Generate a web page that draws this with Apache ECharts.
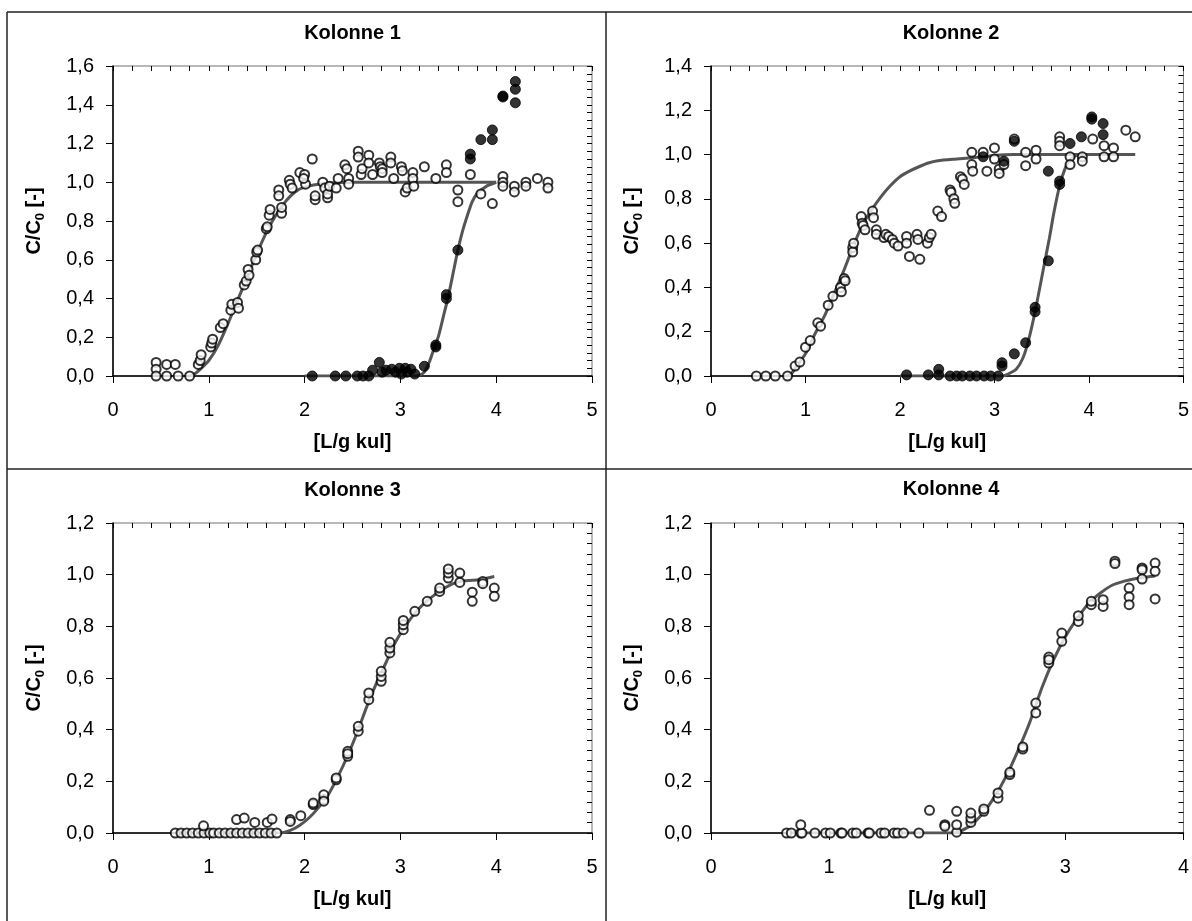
<!DOCTYPE html>
<html>
<head>
<meta charset="utf-8">
<script src="https://cdn.jsdelivr.net/npm/echarts@6/dist/echarts.min.js"></script>
<style>
html,body{margin:0;padding:0;background:#fff;}
#chart{width:1192px;height:921px;}
</style>
</head>
<body>
<div id="chart"></div>
<script>
// ---------- DATA ----------
const panelTitles = ['Kolonne 1', 'Kolonne 2', 'Kolonne 3', 'Kolonne 4'];
const xAxisName = '[L/g kul]';
const xMaxes = [5, 5, 5, 4];
const yMaxes = [1.6, 1.4, 1.2, 1.2];

// Kolonne 1
const k1Open = [[0.45,0.07],[0.45,0.035],[0.45,0.0],[0.56,0.06],[0.56,0.0],[0.65,0.06],[0.68,0.0],[0.80,0.0],
[0.89,0.06],[0.91,0.08],[0.92,0.11],[1.02,0.15],[1.03,0.17],[1.04,0.19],[1.12,0.25],[1.15,0.27],
[1.23,0.34],[1.24,0.37],[1.30,0.38],[1.31,0.35],[1.37,0.47],[1.39,0.49],[1.41,0.55],[1.42,0.52],
[1.49,0.60],[1.50,0.64],[1.51,0.65],[1.60,0.76],[1.61,0.77],[1.63,0.83],[1.64,0.86],
[1.73,0.96],[1.73,0.93],[1.76,0.84],[1.76,0.87],[1.84,1.01],[1.85,0.99],[1.87,0.97],
[1.95,1.05],[2.0,1.04],[2.01,0.99],[1.99,1.02],[2.08,1.12],[2.11,0.91],[2.11,0.93],
[2.19,1.0],[2.21,0.97],[2.24,0.92],[2.24,0.94],[2.26,0.98],[2.33,0.97],[2.35,1.02],[2.42,1.09],[2.44,1.07],[2.46,1.02],[2.46,0.99],
[2.56,1.16],[2.56,1.13],[2.59,1.04],[2.60,1.07],[2.67,1.14],[2.67,1.10],[2.71,1.04],
[2.78,1.10],[2.79,1.08],[2.81,1.07],[2.81,1.05],[2.90,1.13],[2.90,1.10],[2.93,1.02],
[3.01,1.08],[3.02,1.06],[3.05,0.95],[3.07,0.97],[3.13,1.05],[3.13,1.02],[3.14,0.98],
[3.25,1.08],[3.37,1.02],[3.48,1.09],[3.48,1.05],[3.60,0.96],[3.60,0.90],[3.73,1.04],[3.84,0.94],[3.96,0.89],
[4.07,1.03],[4.07,1.0],[4.07,0.98],[4.19,0.98],[4.19,0.95],[4.31,1.0],[4.31,0.98],[4.43,1.02],[4.54,1.0],[4.54,0.97]];
const k1Filled = [[2.08,0],[2.32,0],[2.43,0],[2.55,0],[2.61,0],[2.67,0.0],[2.71,0.03],[2.78,0.07],[2.81,0.02],[2.85,0.03],
[2.91,0.035],[2.95,0.02],[2.99,0.04],[3.01,0.01],[3.05,0.04],[3.07,0.02],[3.11,0.035],[3.15,0.01],[3.25,0.05],
[3.37,0.15],[3.37,0.16],[3.48,0.40],[3.48,0.42],[3.60,0.65],[3.73,1.12],[3.73,1.145],[3.84,1.22],[3.96,1.27],[3.96,1.22],
[4.07,1.445],[4.07,1.44],[4.20,1.52],[4.20,1.48],[4.20,1.41]];
const k1CurveA = [[0.8,0],[0.85,0.01],[0.9,0.03],[1.0,0.08],[1.1,0.16],[1.2,0.27],[1.3,0.39],[1.4,0.51],[1.5,0.63],
[1.6,0.74],[1.7,0.83],[1.8,0.9],[1.9,0.95],[2.0,0.975],[2.2,0.993],[2.5,1.0],[4.0,1.0]];
const k1CurveB = [[2.0,0],[3.15,0],[3.2,0.005],[3.25,0.02],[3.3,0.07],[3.35,0.14],[3.4,0.21],[3.45,0.31],[3.5,0.41],
[3.55,0.53],[3.6,0.65],[3.65,0.75],[3.7,0.83],[3.75,0.9],[3.8,0.94],[3.9,0.98],[4.0,1.0]];

// Kolonne 2
const k2Open = [[0.48,0],[0.58,0],[0.68,0],[0.81,0],[0.89,0.045],[0.94,0.063],[1.0,0.13],[1.05,0.16],[1.13,0.24],[1.16,0.225],
[1.24,0.32],[1.29,0.36],[1.37,0.40],[1.38,0.38],[1.41,0.44],[1.42,0.43],[1.50,0.58],[1.50,0.56],[1.51,0.60],
[1.59,0.72],[1.60,0.69],[1.61,0.68],[1.63,0.66],[1.71,0.745],[1.72,0.715],[1.75,0.66],[1.75,0.64],
[1.83,0.625],[1.85,0.64],[1.88,0.63],[1.92,0.617],[1.94,0.60],[1.98,0.587],[2.07,0.63],[2.07,0.60],[2.10,0.54],
[2.18,0.64],[2.19,0.617],[2.21,0.527],[2.29,0.60],[2.31,0.625],[2.33,0.64],[2.40,0.745],[2.44,0.72],
[2.53,0.84],[2.54,0.83],[2.57,0.80],[2.58,0.78],[2.64,0.90],[2.66,0.89],[2.68,0.865],
[2.76,1.01],[2.76,0.955],[2.77,0.925],[2.88,1.01],[2.92,0.925],[3.0,1.03],[3.0,0.98],
[3.05,0.935],[3.05,0.915],[3.10,0.955],[3.21,1.07],[3.33,1.01],[3.33,0.95],[3.44,1.02],[3.44,0.98],
[3.69,1.08],[3.69,1.06],[3.69,1.04],[3.80,0.99],[3.80,0.955],[3.93,0.99],[3.93,0.97],[4.04,1.07],
[4.16,1.04],[4.16,0.99],[4.26,1.03],[4.26,0.99],[4.39,1.11],[4.49,1.08]];
const k2Filled = [[2.07,0.005],[2.30,0.005],[2.41,0.03],[2.41,0.005],[2.53,0],[2.60,0],[2.66,0],[2.74,0],[2.81,0],[2.89,0],
[2.96,0],[3.04,0],[3.08,0.045],[3.08,0.06],[3.21,0.10],[3.33,0.15],[3.43,0.31],[3.43,0.29],[3.57,0.52],
[3.69,0.88],[3.69,0.865],[3.80,1.05],[3.92,1.08],[4.03,1.17],[4.03,1.16],[4.15,1.14],[4.15,1.09],
[3.21,1.06],[2.88,0.99],[3.57,0.925],[3.10,0.97]];
const k2CurveA = [[0.8,0],[0.85,0.01],[0.9,0.04],[1.0,0.1],[1.1,0.19],[1.2,0.27],[1.3,0.37],[1.4,0.47],[1.5,0.58],
[1.6,0.68],[1.7,0.75],[1.8,0.81],[1.9,0.86],[2.0,0.9],[2.1,0.925],[2.2,0.945],[2.3,0.962],[2.4,0.972],[2.6,0.98],
[2.8,0.987],[3.0,0.996],[3.2,1.0],[4.49,1.0]];
const k2CurveB = [[2.0,0],[3.08,0],[3.15,0.01],[3.23,0.03],[3.3,0.08],[3.36,0.16],[3.43,0.29],[3.48,0.4],[3.53,0.51],
[3.58,0.62],[3.63,0.74],[3.69,0.86],[3.75,0.94],[3.8,0.975],[3.9,1.0],[4.0,1.0]];

// Kolonne 3
const k3Open = [[0.65,0],[0.71,0],[0.77,0],[0.83,0],[0.89,0],[0.95,0],[1.01,0],[1.05,0],[1.11,0],[1.17,0],[1.23,0],
[1.29,0],[1.35,0],[1.41,0],[1.47,0],[1.53,0],[1.59,0],[1.65,0],[1.71,0],
[0.945,0.028],[1.29,0.052],[1.37,0.058],[1.48,0.041],[1.61,0.041],[1.66,0.054],
[1.85,0.052],[1.85,0.045],[1.96,0.067],[2.09,0.11],[2.09,0.116],[2.20,0.13],[2.20,0.148],[2.20,0.123],
[2.33,0.206],[2.33,0.213],[2.45,0.297],[2.45,0.316],[2.45,0.307],[2.56,0.394],[2.56,0.413],[2.67,0.516],[2.67,0.542],
[2.80,0.587],[2.80,0.606],[2.80,0.626],[2.89,0.697],[2.89,0.716],[2.89,0.738],[3.03,0.787],[3.03,0.806],[3.03,0.823],
[3.15,0.858],[3.28,0.897],[3.41,0.935],[3.41,0.948],[3.50,0.987],[3.50,1.006],[3.50,1.022],[3.62,1.006],[3.62,0.97],
[3.75,0.932],[3.75,0.897],[3.86,0.974],[3.86,0.965],[3.98,0.948],[3.98,0.916]];
const k3Curve = [[0.65,0],[1.75,0],[1.85,0.01],[1.95,0.03],[2.05,0.06],[2.15,0.1],[2.25,0.15],[2.35,0.22],[2.45,0.3],
[2.55,0.39],[2.65,0.49],[2.75,0.58],[2.85,0.66],[2.95,0.74],[3.05,0.8],[3.15,0.85],[3.25,0.89],[3.35,0.92],
[3.45,0.945],[3.55,0.965],[3.65,0.975],[3.75,0.978],[3.85,0.982],[3.98,0.993]];

// Kolonne 4
const k4Open = [[0.64,0],[0.68,0],[0.76,0],[0.77,0],[0.88,0],[0.97,0],[1.01,0],[1.10,0],[1.11,0],[1.20,0],[1.23,0],
[1.33,0],[1.34,0],[1.44,0],[1.47,0],[1.55,0],[1.58,0],[1.63,0],[1.76,0],[0.76,0.032],
[1.85,0.088],[1.98,0.032],[1.98,0.026],[2.08,0.003],[2.08,0.032],[2.08,0.084],[2.20,0.041],[2.20,0.058],[2.20,0.077],
[2.31,0.084],[2.31,0.093],[2.43,0.135],[2.43,0.155],[2.53,0.226],[2.53,0.235],[2.64,0.325],[2.64,0.333],
[2.75,0.465],[2.75,0.503],[2.86,0.658],[2.86,0.681],[2.86,0.671],[2.97,0.742],[2.97,0.774],[3.11,0.819],[3.11,0.841],
[3.22,0.884],[3.22,0.897],[3.32,0.877],[3.32,0.903],[3.42,1.052],[3.42,1.043],[3.54,0.948],[3.54,0.914],[3.54,0.884],
[3.65,1.026],[3.65,1.019],[3.65,0.983],[3.76,1.045],[3.76,1.013],[3.76,0.906]];
const k4Curve = [[0.64,0],[2.05,0],[2.1,0.005],[2.2,0.03],[2.3,0.075],[2.4,0.14],[2.5,0.22],[2.6,0.32],[2.7,0.43],
[2.8,0.56],[2.9,0.67],[3.0,0.76],[3.1,0.83],[3.2,0.89],[3.3,0.93],[3.4,0.96],[3.5,0.975],[3.6,0.985],[3.76,0.995]];

// ---------- CHART ----------
const FONT = '"Liberation Sans", Arial, sans-serif';
const gridBoxes = [
  {left:113, top:66, width:479, height:310},
  {left:711, top:66, width:480, height:310},
  {left:113, top:523, width:479, height:310},
  {left:711, top:523, width:480, height:310}
];
const titleY = [33, 33, 490, 489];
const panelOpen = [k1Open, k2Open, k3Open, k4Open];
const panelFilled = [k1Filled, k2Filled, null, null];
const panelCurves = [[k1CurveA, k1CurveB], [k2CurveA, k2CurveB], [k3Curve], [k4Curve]];

const grid = [], xAxis = [], yAxis = [], series = [], graphic = [];

gridBoxes.forEach((g, i) => {
  grid.push(Object.assign({show:true, borderColor:'#707070', borderWidth:1, backgroundColor:'#fff'}, g));
  xAxis.push({
    gridIndex:i, type:'value', min:0, max:xMaxes[i], interval:1,
    axisLine:{show:true, onZero:false, lineStyle:{color:'#000', width:1.5}},
    axisTick:{show:true, inside:false, length:7, lineStyle:{color:'#000', width:1}},
    axisLabel:{show:true, margin:24, fontSize:20, color:'#000', fontFamily:FONT},
    splitLine:{show:false},
    name:xAxisName, nameLocation:'middle', nameGap:56,
    nameTextStyle:{fontSize:20, fontWeight:'bold', color:'#000', fontFamily:FONT}
  });
  xAxis.push({
    gridIndex:i, type:'value', min:0, max:xMaxes[i], interval:0.2,
    axisLine:{show:false, onZero:false}, axisTick:{show:true, inside:true, length:5, lineStyle:{color:'#000', width:1}},
    axisLabel:{show:false}, splitLine:{show:false}
  });
  yAxis.push({
    gridIndex:i, type:'value', min:0, max:yMaxes[i], interval:0.2,
    axisLine:{show:true, onZero:false, lineStyle:{color:'#000', width:1.5}},
    axisTick:{show:true, inside:false, length:7, lineStyle:{color:'#000', width:1}},
    axisLabel:{show:true, margin:19, fontSize:20, color:'#000', fontFamily:FONT,
      formatter: v => v.toFixed(1).replace('.', ',')},
    splitLine:{show:false},
    name:'{a|C/C}{s|0}{a| [-]}', nameLocation:'middle', nameGap:69, nameRotate:90,
    nameTextStyle:{color:'#000', rich:{
      a:{fontSize:20, fontWeight:'bold', color:'#000', fontFamily:FONT, lineHeight:24, verticalAlign:'bottom'},
      s:{fontSize:13, fontWeight:'bold', color:'#000', fontFamily:FONT, lineHeight:24, verticalAlign:'bottom', padding:[0,0,-3,0]}
    }}
  });
  yAxis.push({
    gridIndex:i, type:'value', min:0, max:yMaxes[i], interval:0.04,
    axisLine:{show:false, onZero:false}, axisTick:{show:true, inside:true, length:5, lineStyle:{color:'#000', width:1}},
    axisLabel:{show:false}, splitLine:{show:false}
  });
  panelCurves[i].forEach(c => {
    series.push({type:'line', xAxisIndex:2*i, yAxisIndex:2*i, data:c, showSymbol:false, symbol:'none',
      smooth:0.25, lineStyle:{color:'#555', width:3}, z:2, silent:true});
  });
  series.push({type:'scatter', xAxisIndex:2*i, yAxisIndex:2*i, data:panelOpen[i], symbol:'circle', symbolSize:9,
    itemStyle:{color:'#fff', borderColor:'#000', borderWidth:2}, z:3});
  if (panelFilled[i]) {
    series.push({type:'scatter', xAxisIndex:2*i, yAxisIndex:2*i, data:panelFilled[i], symbol:'circle', symbolSize:10,
      itemStyle:{color:'#000', borderColor:'#000', borderWidth:1}, z:4});
  }
  graphic.push({type:'text', x:g.left + g.width/2, y:titleY[i], z:10,
    style:{text:panelTitles[i], fill:'#000', font:'bold 20px ' + FONT, textAlign:'center', textVerticalAlign:'middle'}});
});

const frameStyle = {stroke:'#222', lineWidth:1.5};
graphic.push({type:'line', shape:{x1:7, y1:12, x2:1192, y2:12}, style:frameStyle, z:10});
graphic.push({type:'line', shape:{x1:7, y1:12, x2:7, y2:921}, style:frameStyle, z:10});
graphic.push({type:'line', shape:{x1:606, y1:12, x2:606, y2:921}, style:frameStyle, z:10});
graphic.push({type:'line', shape:{x1:7, y1:469, x2:1192, y2:469}, style:frameStyle, z:10});

const chart = echarts.init(document.getElementById('chart'), null, {renderer:'canvas'});
chart.setOption({backgroundColor:'#fff', animation:false, grid, xAxis, yAxis, series, graphic});
</script>
</body>
</html>
